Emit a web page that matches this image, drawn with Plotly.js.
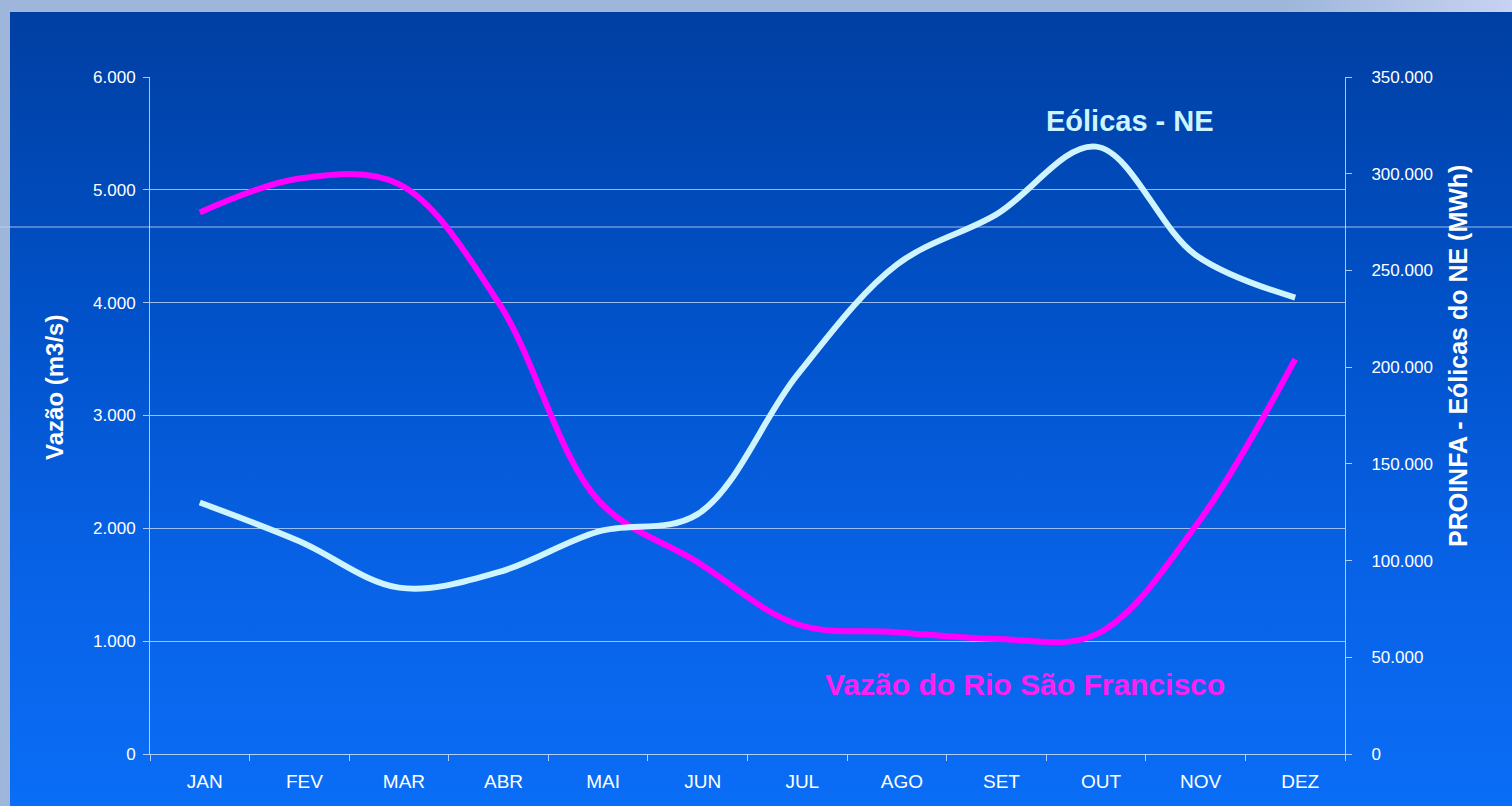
<!DOCTYPE html>
<html>
<head>
<meta charset="utf-8">
<script src="https://cdn.plot.ly/plotly-3.0.1.min.js"></script>
<style>
  html, body { margin: 0; padding: 0; width: 1512px; height: 806px; overflow: hidden; background: #9db6d9; }
  #frame { position: absolute; left: 10px; top: 12px; width: 1502px; height: 794px;
           background: linear-gradient(to bottom, #003fa2 0%, #0050c6 35%, #0862e6 70%, #0a6df6 100%); }
  #topright { position: absolute; left: 1280px; top: 0; width: 232px; height: 12px;
              background: linear-gradient(to right, #9db6d9, #c8d2f2); }
  #chart { position: absolute; left: 0; top: 0; width: 1512px; height: 806px; }
</style>
</head>
<body>
<div id="topright"></div>
<div id="frame"></div>
<div id="chart"></div>
<script>
const months = ['JAN','FEV','MAR','ABR','MAI','JUN','JUL','AGO','SET','OUT','NOV','DEZ'];
const vazao = [4800, 5100, 5050, 4000, 2250, 1700, 1150, 1080, 1020, 1060, 2020, 3500];
const eolicas = [130000, 110000, 86000, 94000, 115000, 124000, 196000, 253000, 279000, 314000, 258000, 236000];
const leftTicks = [0, 1000, 2000, 3000, 4000, 5000, 6000];
const rightTicks = [0, 50000, 100000, 150000, 200000, 250000, 300000, 350000];

const FONT = 'Liberation Sans, Arial, sans-serif';
const tickFont = {family: FONT, size: 17, color: '#ffffff'};
const lineCol = 'rgba(230,240,255,0.75)';

const traces = [
  {x: months, y: vazao, type: 'scatter', mode: 'lines', name: 'Vazão do Rio São Francisco',
   line: {color: '#ff00ff', width: 6, shape: 'spline', smoothing: 1}, yaxis: 'y', hoverinfo: 'x+y'},
  {x: months, y: eolicas, type: 'scatter', mode: 'lines', name: 'Eólicas - NE',
   line: {color: '#cdf4ff', width: 6, shape: 'spline', smoothing: 1}, yaxis: 'y2', hoverinfo: 'x+y'}
];

const layout = {
  width: 1512, height: 806,
  margin: {l: 150, r: 167, t: 77, b: 52},
  paper_bgcolor: 'rgba(0,0,0,0)',
  plot_bgcolor: 'rgba(0,0,0,0)',
  showlegend: false,
  separators: ',.',
  font: {family: FONT, color: '#ffffff'},
  xaxis: {
    type: 'category', categoryorder: 'array', categoryarray: months, range: [-0.5, 11.5],
    tickson: 'boundaries', ticks: 'outside', ticklen: 6, tickcolor: lineCol,
    showline: true, linecolor: lineCol, linewidth: 1,
    showgrid: false, tickfont: {family: FONT, size: 19, color: '#ffffff'},
    ticklabelstandoff: 10, ticklabelshift: 5, fixedrange: true
  },
  yaxis: {
    range: [0, 6000], tickvals: leftTicks, tickformat: ',d',
    ticks: 'outside', ticklen: 6, tickcolor: lineCol,
    showline: true, linecolor: lineCol, linewidth: 1,
    showgrid: true, gridcolor: 'rgba(220,235,255,0.7)', gridwidth: 1, zeroline: false,
    tickfont: tickFont, ticklabelstandoff: 4,
    automargin: false, fixedrange: true
  },
  yaxis2: {
    range: [0, 350000], tickvals: rightTicks, tickformat: ',d', overlaying: 'y', side: 'right',
    ticks: 'outside', ticklen: 6, tickcolor: lineCol,
    showline: true, linecolor: lineCol, linewidth: 1,
    showgrid: false, zeroline: false,
    tickfont: tickFont, ticklabelstandoff: 16,
    automargin: false, fixedrange: true
  },
  annotations: [
    {text: 'Vazão (m3/s)', xref: 'paper', yref: 'paper', x: (54 - 150) / 1195, y: (754 - 388) / 677,
     xanchor: 'center', yanchor: 'middle', textangle: -90, showarrow: false,
     font: {family: FONT, size: 24, color: '#ffffff', weight: 'bold'}},
    {text: 'PROINFA - Eólicas do NE (MWh)', xref: 'paper', yref: 'paper', x: (1458 - 150) / 1195, y: (754 - 356) / 677,
     xanchor: 'center', yanchor: 'middle', textangle: -90, showarrow: false,
     font: {family: FONT, size: 25, color: '#ffffff', weight: 'bold'}},
    {text: 'Eólicas - NE', xref: 'paper', yref: 'paper', x: (1130 - 150) / 1195, y: (754 - 121) / 677, xanchor: 'center', yanchor: 'middle',
     showarrow: false, font: {family: FONT, size: 29, color: '#cdf4ff', weight: 'bold'}},
    {text: 'Vazão do Rio São Francisco', xref: 'paper', yref: 'paper', x: (1025 - 150) / 1195, y: (754 - 684) / 677, xanchor: 'center', yanchor: 'middle',
     showarrow: false, font: {family: FONT, size: 30, color: '#ff1ff0', weight: 'bold'}}
  ],
  shapes: [
    {type: 'line', xref: 'paper', yref: 'paper', x0: -0.2, x1: 1.2, y0: (754 - 227) / 677, y1: (754 - 227) / 677,
     line: {color: 'rgba(200,215,245,0.8)', width: 1}, layer: 'below'}
  ]
};

Plotly.newPlot('chart', traces, layout, {displayModeBar: false});
</script>
</body>
</html>
